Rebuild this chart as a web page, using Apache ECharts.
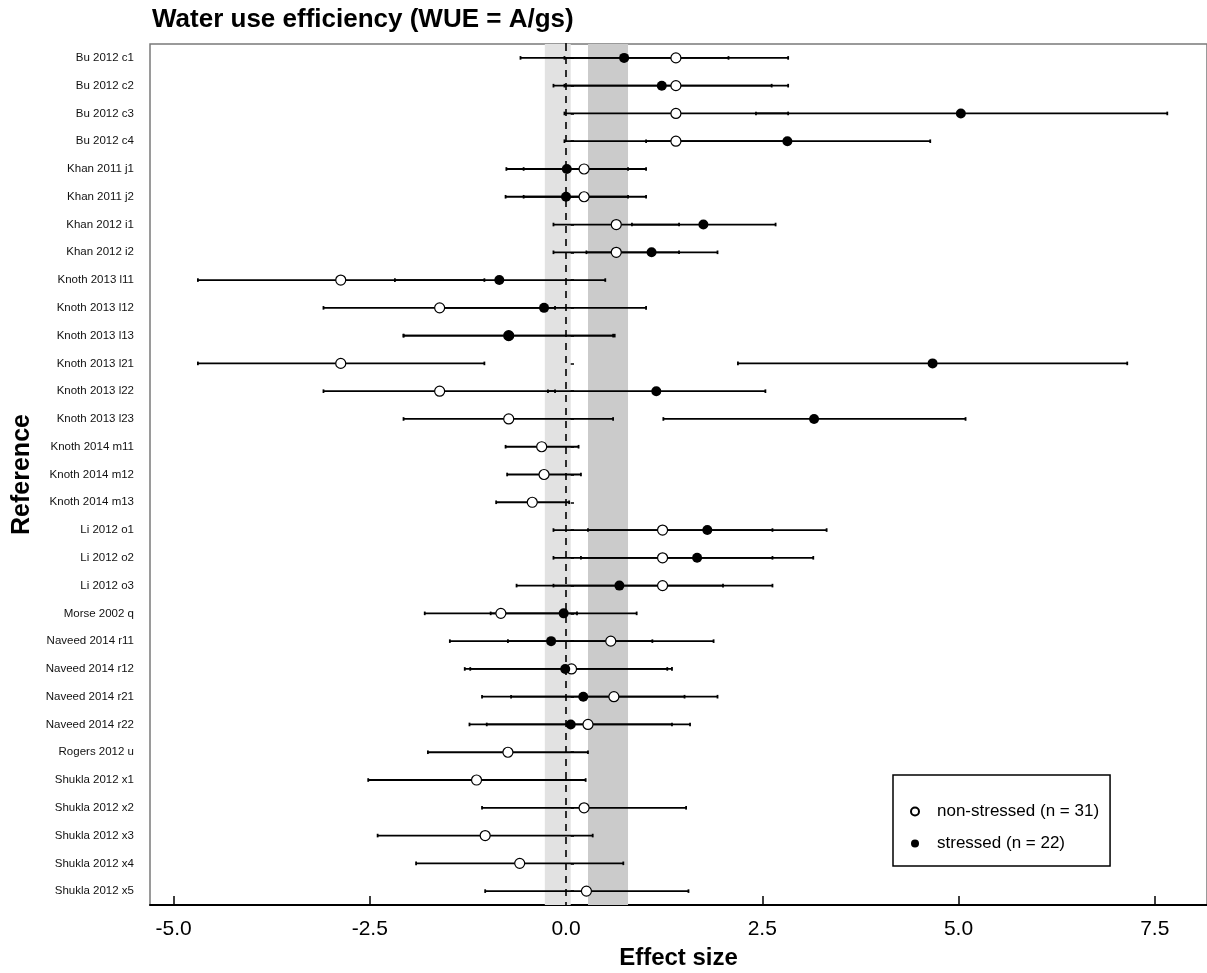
<!DOCTYPE html>
<html><head><meta charset="utf-8">
<script src="https://cdn.jsdelivr.net/npm/echarts@6/dist/echarts.min.js"></script>
<style>html,body{margin:0;padding:0;background:#fff}#c{width:1207px;height:973px}</style>
</head><body><div id="c"></div>
<script>
const categories = [
  'Bu 2012 c1','Bu 2012 c2','Bu 2012 c3','Bu 2012 c4',
  'Khan 2011 j1','Khan 2011 j2','Khan 2012 i1','Khan 2012 i2',
  'Knoth 2013 l11','Knoth 2013 l12','Knoth 2013 l13','Knoth 2013 l21','Knoth 2013 l22','Knoth 2013 l23',
  'Knoth 2014 m11','Knoth 2014 m12','Knoth 2014 m13',
  'Li 2012 o1','Li 2012 o2','Li 2012 o3','Morse 2002 q',
  'Naveed 2014 r11','Naveed 2014 r12','Naveed 2014 r21','Naveed 2014 r22',
  'Rogers 2012 u','Shukla 2012 x1','Shukla 2012 x2','Shukla 2012 x3','Shukla 2012 x4','Shukla 2012 x5'
];
// non-stressed (open circles)
const nsMean = [1.40,1.40,1.40,1.40, 0.23,0.23,0.64,0.64, -2.87,-1.61,-0.73,-2.87,-1.61,-0.73, -0.31,-0.28,-0.43, 1.23,1.23,1.23,-0.83, 0.57,0.07,0.61,0.28, -0.74,-1.14,0.23,-1.03,-0.59,0.26];
const nsLow  = [-0.02,-0.02,-0.02,-0.02, -0.54,-0.54,-0.16,-0.16, -4.69,-3.09,-2.07,-4.69,-3.09,-2.07, -0.77,-0.75,-0.89, -0.16,-0.16,-0.16,-1.80, -0.74,-1.22,-0.70,-1.01, -1.76,-2.52,-1.07,-2.40,-1.91,-1.03];
const nsHigh = [2.83,2.83,2.83,2.83, 1.02,1.02,1.44,1.44, -1.04,-0.14,0.60,-1.04,-0.14,0.60, 0.16,0.19,0.04, 2.63,2.63,2.63,0.14, 1.88,1.35,1.93,1.58, 0.28,0.25,1.53,0.34,0.73,1.56];
// stressed (filled circles)
const stMean = [0.74,1.22,5.03,2.82, 0.01,0.00,1.75,1.09, -0.85,-0.28,-0.73,4.67,1.15,3.16, null,null,null, 1.80,1.67,0.68,-0.03, -0.19,-0.01,0.22,0.06, null,null,null,null,null,null];
const stLow  = [-0.58,-0.16,2.42,1.02, -0.76,-0.77,0.84,0.26, -2.18,-1.58,-2.07,2.19,-0.23,1.24, null,null,null, 0.28,0.19,-0.63,-0.96, -1.48,-1.29,-1.07,-1.23, null,null,null,null,null,null];
const stHigh = [2.07,2.62,7.66,4.64, 0.79,0.79,2.67,1.93, 0.50,1.02,0.62,7.15,2.54,5.09, null,null,null, 3.32,3.15,2.00,0.90, 1.10,1.29,1.51,1.35, null,null,null,null,null,null];
const xTicks = [-5, -2.5, 0, 2.5, 5, 7.5];
const lightBand = [-0.27, 0.06];
const darkBand = [0.28, 0.79];
const nsName = 'non-stressed (n = 31)';
const stName = 'stressed (n = 22)';

const FONT = "'Liberation Sans', Arial, sans-serif";

function errorBars(lows, highs, z) {
  const data = [];
  lows.forEach((lo, i) => { if (lo != null) data.push([lo, highs[i], i]); });
  return {
    type: 'custom', z: z, silent: true,
    encode: { x: [0, 1], y: 2 },
    data: data,
    renderItem: function (params, api) {
      const a = api.coord([api.value(0), api.value(2)]);
      const b = api.coord([api.value(1), api.value(2)]);
      const h = 1.8;
      const style = { stroke: '#000', lineWidth: 1.8, fill: null };
      return { type: 'group', children: [
        { type: 'line', shape: { x1: a[0], y1: a[1], x2: b[0], y2: b[1] }, style: style },
        { type: 'line', shape: { x1: a[0], y1: a[1] - h, x2: a[0], y2: a[1] + h }, style: style },
        { type: 'line', shape: { x1: b[0], y1: b[1] - h, x2: b[0], y2: b[1] + h }, style: style }
      ]};
    }
  };
}
function points(means) {
  const d = [];
  means.forEach((m, i) => { if (m != null) d.push([m, i]); });
  return d;
}

const chart = echarts.init(document.getElementById('c'), null, { renderer: 'canvas' });
chart.setOption({
  animation: false,
  backgroundColor: '#fff',
  textStyle: { fontFamily: FONT },
  title: {
    text: 'Water use efficiency (WUE = A/gs)',
    left: 147, top: 2,
    textStyle: { fontSize: 26, fontWeight: 'bold', color: '#000', fontFamily: FONT }
  },
  grid: {
    left: 150, right: 0, top: 44, bottom: 68,
    outerBoundsMode: 'none', containLabel: false,
    show: true, borderColor: '#7a7a7a', borderWidth: 1.5, backgroundColor: 'transparent'
  },
  legend: {
    data: [nsName, stName],
    orient: 'vertical',
    left: 893, top: 775,
    padding: [28, 11, 14, 17],
    itemWidth: 34, itemHeight: 8, itemGap: 15,
    borderColor: '#000', borderWidth: 1.5,
    selectedMode: false,
    textStyle: { fontSize: 17, color: '#000', fontFamily: FONT }
  },
  xAxis: {
    type: 'value',
    min: -5.3, max: 8.166,
    name: 'Effect size', nameLocation: 'middle', nameGap: 41,
    nameTextStyle: { fontSize: 24, fontWeight: 'bold', color: '#000', fontFamily: FONT },
    axisLine: { show: true, onZero: false, lineStyle: { color: '#000', width: 2 } },
    axisTick: { show: true, inside: true, length: 9, customValues: xTicks, lineStyle: { color: '#000', width: 1.5 } },
    axisLabel: {
      customValues: xTicks, margin: 14,
      formatter: v => v.toFixed(1),
      fontSize: 21, color: '#000', fontFamily: FONT
    },
    splitLine: { show: false }
  },
  yAxis: {
    type: 'category',
    data: categories,
    inverse: true,
    boundaryGap: true,
    name: 'Reference', nameLocation: 'middle', nameGap: 114, nameRotate: 90,
    nameTextStyle: { fontSize: 25, fontWeight: 'bold', color: '#000', fontFamily: FONT },
    axisLine: { show: true, lineStyle: { color: '#000', width: 2 } },
    axisTick: { show: true, inside: true, length: 8, alignWithLabel: true, lineStyle: { color: '#000', width: 1.5 } },
    axisLabel: { fontSize: 11.5, color: '#111', margin: 16, fontFamily: FONT },
    splitLine: { show: false }
  },
  series: [
    {
      type: 'scatter', data: [], z: 1, silent: true,
      markArea: {
        silent: true,
        data: [
          [{ xAxis: lightBand[0], itemStyle: { color: '#e2e2e2' } }, { xAxis: lightBand[1] }],
          [{ xAxis: darkBand[0], itemStyle: { color: '#cbcbcb' } }, { xAxis: darkBand[1] }]
        ]
      },
      markLine: {
        silent: true, symbol: 'none', label: { show: false },
        lineStyle: { color: '#000', width: 1.6, type: [7, 6] },
        data: [{ xAxis: 0 }]
      }
    },
    errorBars(nsLow, nsHigh, 3),
    errorBars(stLow, stHigh, 3),
    {
      name: nsName, type: 'scatter', z: 5, symbol: 'circle', symbolSize: 10,
      data: points(nsMean),
      itemStyle: { color: '#fff', borderColor: '#000', borderWidth: 1.2, opacity: 1 }
    },
    {
      name: stName, type: 'scatter', z: 6, symbol: 'circle', symbolSize: 10,
      data: points(stMean),
      itemStyle: { color: '#000', borderColor: '#000', borderWidth: 0, opacity: 1 }
    }
  ]
});
</script></body></html>
